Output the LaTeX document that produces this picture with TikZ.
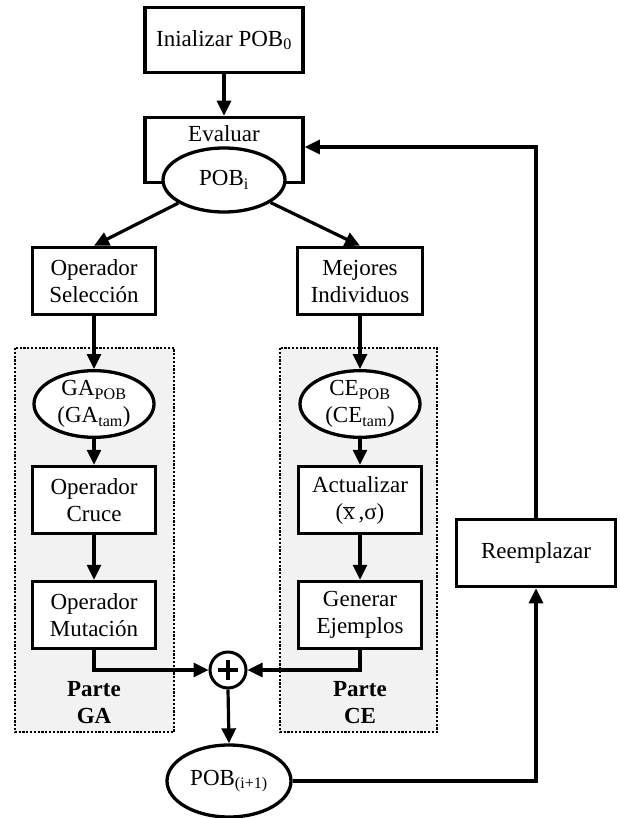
\documentclass[tikz,border=0pt]{standalone}
\usepackage{fontspec}
\setmainfont{Liberation Serif}
\usetikzlibrary{arrows.meta,shapes.geometric,calc}
\definecolor{groupfill}{HTML}{F2F2F2}
\begin{document}
\begin{tikzpicture}[x=1pt,y=-1pt,
  every node/.style={font=\fontsize{23}{27}\selectfont, align=center},
  box/.style={draw, line width=3.5pt, fill=white, minimum width=123pt, minimum height=67pt, inner sep=0pt},
  oval/.style={draw, ellipse, line width=3.3pt, fill=white, minimum width=120pt, minimum height=66pt, inner sep=0pt},
  group/.style={draw, line width=1.3pt, dash pattern=on 2.2pt off 1.6pt, fill=groupfill},
  conn/.style={line width=3.2pt, -{Triangle[length=15pt,width=14pt]}},
  plain/.style={line width=3pt}
]
\useasboundingbox (0,0) rectangle (619,818);

% groups
\draw[group] (15,348) rectangle (174,732);
\draw[group] (280,348) rectangle (437,732);

% nodes
\node[box, minimum width=158pt, minimum height=65pt] (init) at (224,40) {Inializar POB\textsubscript{0}};
\node[box, minimum width=158pt, minimum height=65pt] (evalbox) at (224,150) {};
\node (evaltxt) at (224,134) {Evaluar};
\node[oval, minimum width=122pt, minimum height=64pt] (pobi) at (224,180) {POB\textsubscript{i}};

\node[box] (sel) at (94,281) {Operador\\Selección};
\node[box, minimum width=125pt] (mej) at (360,281) {Mejores\\Individuos};

\node[oval] (gapob) at (94,404) {GA\textsubscript{POB}\\(GA\textsubscript{tam})};
\node[box] (cruce) at (94,500) {Operador\\Cruce};
\node[box] (mut) at (94,615) {Operador\\Mutación};

\node[oval] (cepob) at (360,404) {CE\textsubscript{POB}\\(CE\textsubscript{tam})};
\node[box] (act) at (360,500) {Actualizar\\($\overline{\hbox{x}}$\,,σ)};
\node[box] (gen) at (360,615) {Generar\\Ejemplos};

\node[font=\fontsize{23}{27}\selectfont\bfseries] (parteGA) at (94,703) {Parte\\GA};
\node[font=\fontsize{23}{27}\selectfont\bfseries] (parteCE) at (360,703) {Parte\\CE};

\node[draw, circle, line width=3pt, fill=white, minimum size=36pt, inner sep=0pt] (plus) at (228,670) {};
\draw[line width=4.5pt] ($(plus.center)+(-10,0)$) -- ($(plus.center)+(10,0)$);
\draw[line width=4.5pt] ($(plus.center)+(0,-10)$) -- ($(plus.center)+(0,10)$);

\node[oval, minimum width=124pt, minimum height=72pt] (pobn) at (229,781) {POB\textsubscript{(i+1)}};
\node[box, minimum width=159pt] (reem) at (536,553) {Reemplazar};

% connectors
\draw[conn] (init.south) -- (evalbox.north);
\draw[conn] (pobi) -- (sel.north);
\draw[conn] (pobi) -- (mej.north);
\draw[conn] (sel.south) -- (gapob.north);
\draw[conn] (gapob.south) -- (cruce.north);
\draw[conn] (cruce.south) -- (mut.north);
\draw[conn] (mej.south) -- (cepob.north);
\draw[conn] (cepob.south) -- (act.north);
\draw[conn] (act.south) -- (gen.north);
\draw[conn] (mut.south) |- (plus.west);
\draw[conn] (gen.south) |- (plus.east);
\draw[conn] (plus.south) -- (pobn.north);
\draw[conn] (pobn.east) -| (reem.south);
\draw[conn] (reem.north) |- ($(evalbox.east)+(0,-3)$);
\end{tikzpicture}
\end{document}
